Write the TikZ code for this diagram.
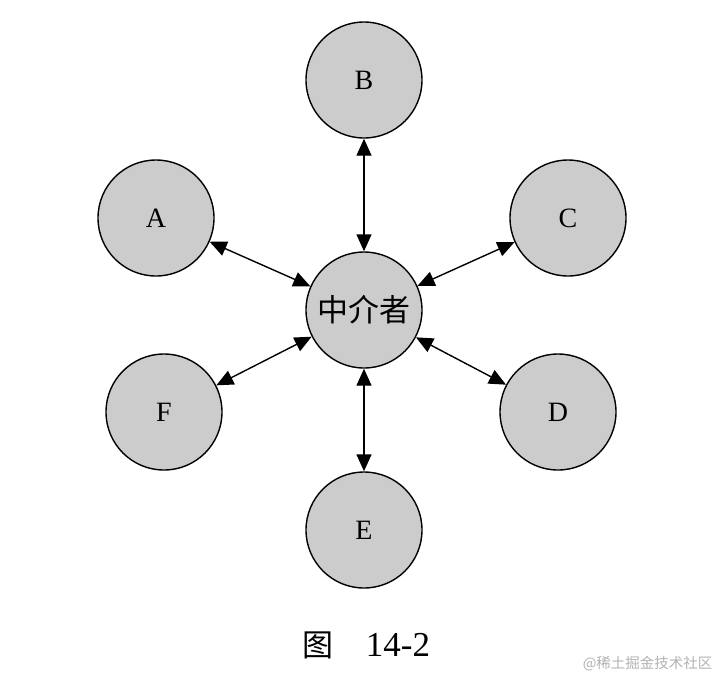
\documentclass[tikz,border=0pt]{standalone}
\usepackage{fontspec}
\setmainfont{Liberation Serif}
\newfontfamily\cjk{Noto Sans CJK SC}
\usetikzlibrary{arrows.meta}
\begin{document}
\begin{tikzpicture}[x=1pt,y=-1pt,
  ball/.style={circle,draw=black,fill=gray!40,line width=1.4pt,minimum size=116pt,inner sep=0pt,font=\fontsize{28}{30}\selectfont},
  link/.style={line width=1.4pt,{Triangle[length=17pt,width=15pt]}-{Triangle[length=17pt,width=15pt]}}]
\useasboundingbox (0,0) rectangle (717,681);
\node[ball] (M) at (364,310) {\cjk\fontsize{31}{32}\selectfont 中介者};
\node[ball] (B) at (364,80) {B};
\node[ball] (A) at (156,218) {A};
\node[ball] (C) at (568,218) {C};
\node[ball] (F) at (164,412) {F};
\node[ball] (D) at (558,412) {D};
\node[ball] (E) at (364,530) {E};
\draw[link] (M) -- (B);
\draw[link] (M) -- (A);
\draw[link] (M) -- (C);
\draw[link] (M) -- (F);
\draw[link] (M) -- (D);
\draw[link] (M) -- (E);
\node (cap1) at (318,645) {\cjk\fontsize{31}{32}\selectfont 图};
\node (cap2) at (398,645) {\fontsize{35}{36}\selectfont 14-2};
\node[anchor=east,text=gray!60] (wm) at (716,664) {\cjk\fontsize{14.5}{15}\selectfont @稀土掘金技术社区};
\end{tikzpicture}
\end{document}
